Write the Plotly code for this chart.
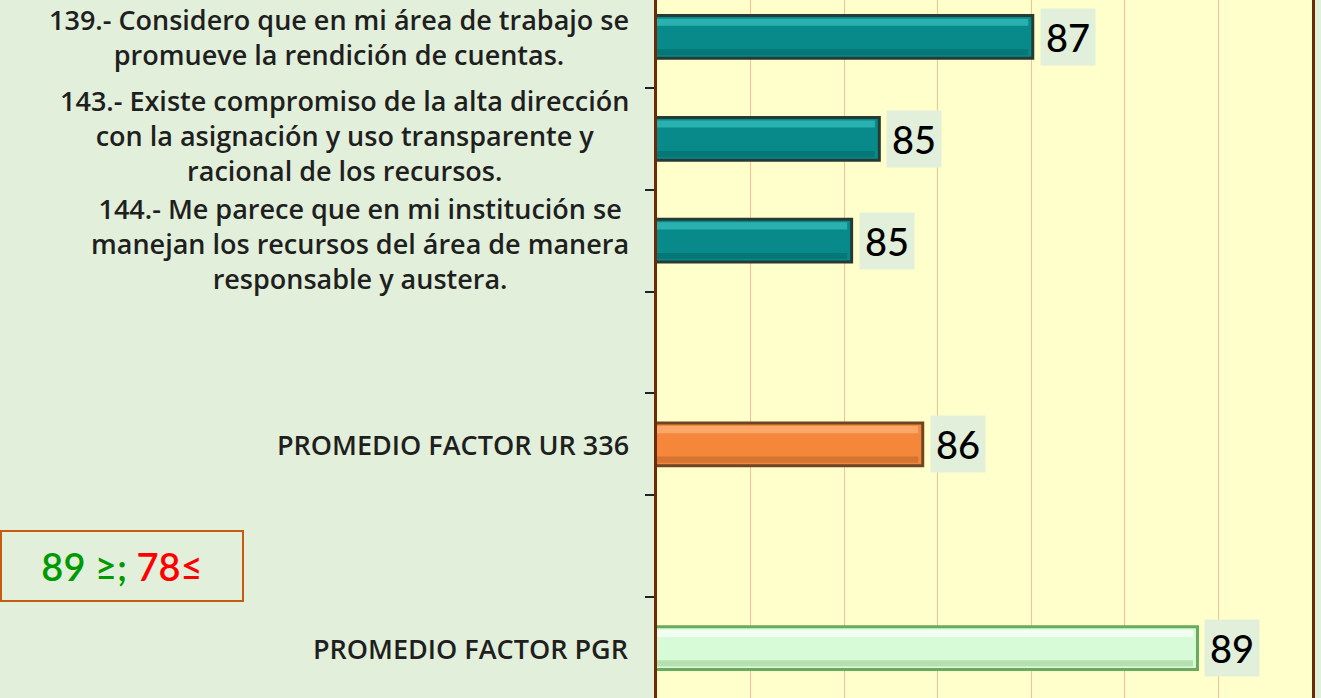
import plotly.graph_objects as go

# categorias (las vacias dejan el hueco entre grupos)
categorias = ["P139", "P143", "P144", "vacio1", "UR336", "vacio2", "PGR"]
etiquetas = [
    "139.- Considero que en mi área de trabajo se<br>promueve la rendición de cuentas.",
    "143.- Existe compromiso de la alta dirección<br>con la asignación y uso transparente y<br>racional de los recursos.",
    "144.- Me parece que en mi institución se<br>manejan los recursos del área de manera<br>responsable y austera.",
    "",
    "PROMEDIO FACTOR UR 336",
    "",
    "PROMEDIO FACTOR PGR",
]
valores = [87.02, 84.97, 84.60, None, 85.55, None, 89.22]
relleno = ["#088A8A", "#088A8A", "#088A8A", None, "#F5873A", None, "#D6FBD6"]
borde = ["#263A36", "#263A36", "#263A36", None, "#6E4522", None, "#6AAA5E"]
brillo = ["#37C2C0", "#37C2C0", "#37C2C0", None, "#FCB57D", None, "#FFFFFF"]
sombra = ["#066868", "#066868", "#066868", None, "#B8652A", None, "#9CCB94"]

# pequeno ajuste vertical (px) para que los bloques de texto no se monten
ajuste_y = [0, 3, -3, 0, 0, 0, 0]

idx = [i for i, v in enumerate(valores) if v is not None]
ys = [categorias[i] for i in idx]
xs = [valores[i] for i in idx]

fig = go.Figure()
fig.add_trace(go.Bar(
    y=ys, x=xs, orientation="h", width=0.42,
    marker=dict(color=[relleno[i] for i in idx],
                line=dict(color=[borde[i] for i in idx], width=3)),
    hoverinfo="skip", showlegend=False,
))
# franjas de brillo y sombra para el efecto de bisel
fig.add_trace(go.Bar(
    y=ys, x=[v - 0.06 for v in xs], orientation="h",
    width=0.07, offset=-0.18,
    marker=dict(color=[brillo[i] for i in idx], line=dict(width=0), opacity=0.7),
    hoverinfo="skip", showlegend=False,
))
fig.add_trace(go.Bar(
    y=ys, x=[v - 0.06 for v in xs], orientation="h",
    width=0.06, offset=0.12,
    marker=dict(color=[sombra[i] for i in idx], line=dict(width=0), opacity=0.55),
    hoverinfo="skip", showlegend=False,
))

fig.update_layout(barmode="overlay")

x_min, x_max = 82.0, 90.75
fig.update_xaxes(range=[x_min, x_max], showticklabels=False, showgrid=True,
                 gridcolor="#F7BE9C", gridwidth=1, tick0=x_min, dtick=1.25,
                 zeroline=False, showline=False, ticks="")

fig.update_yaxes(type="category", categoryorder="array", categoryarray=categorias,
                 range=[6.49, -0.363], showticklabels=False, showgrid=False,
                 tickson="boundaries", ticks="outside", ticklen=9, tickwidth=2,
                 tickcolor="#222222", showline=True, linecolor="#6B2B06",
                 linewidth=3, mirror=True, zeroline=False)

plot_left, plot_w = 657, 655
anotaciones = []
for i, txt in enumerate(etiquetas):
    if not txt:
        continue
    anotaciones.append(dict(
        x=0, xref="paper", y=i, yref="y", text=txt, yshift=ajuste_y[i],
        xanchor="right", yanchor="middle", align="center", xshift=-26,
        showarrow=False, font=dict(family="Open Sans", size=27, color="#1f1f1f", weight=600),
    ))
for i in idx:
    anotaciones.append(dict(
        x=valores[i], xref="x", y=i, yref="y", text=str(round(valores[i])),
        xanchor="left", yanchor="middle", xshift=7, showarrow=False,
        bgcolor="#E2EFDA", borderpad=5,
        font=dict(family="Lato", size=38, color="#000000", weight=500),
    ))
anotaciones.append(dict(
    x=(122 - plot_left) / plot_w, xref="paper", y=1 - 566 / 698, yref="paper",
    xanchor="center", yanchor="middle",
    text="<span style='color:#009900'>89 ≥;</span> <span style='color:#FF0000'>78≤</span>",
    showarrow=False, width=238, height=66, bordercolor="#C55A11", borderwidth=2,
    font=dict(family="Lato", size=38, weight=600), align="center", valign="middle",
))

fig.update_layout(
    width=1321, height=698,
    margin=dict(l=plot_left, r=9, t=0, b=0),
    paper_bgcolor="#E2EFDA", plot_bgcolor="#FFFFCC",
    annotations=anotaciones,
)

fig.write_html("out.html", config={"displayModeBar": False},
               post_script="document.body.style.margin='0';document.body.style.overflow='hidden';")
